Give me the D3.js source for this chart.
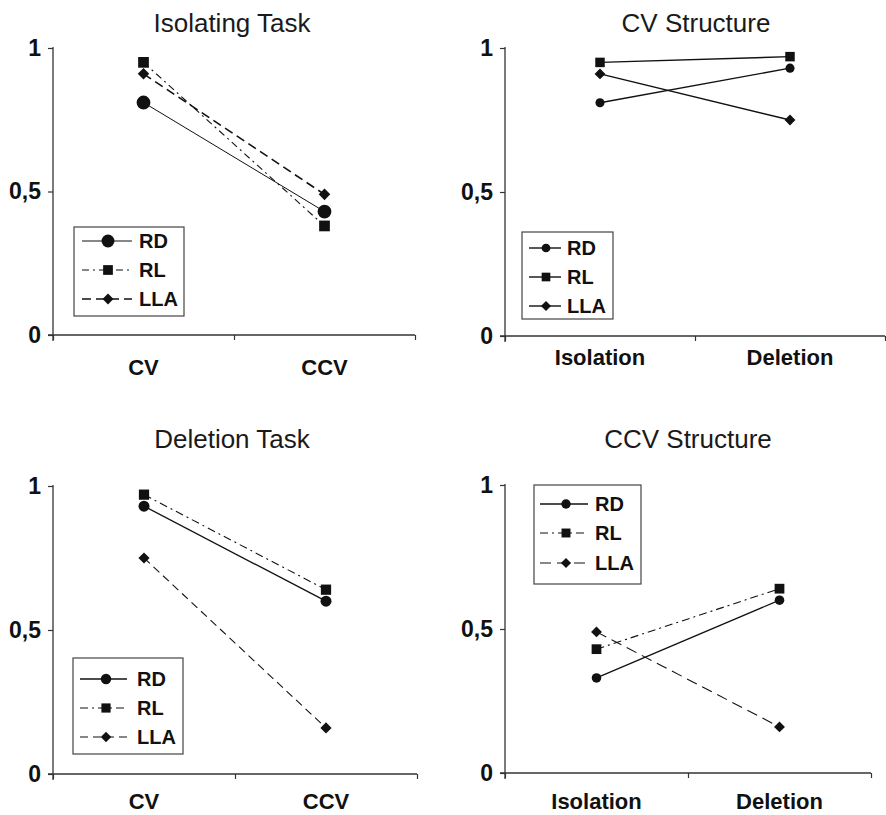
<!DOCTYPE html>
<html>
<head>
<meta charset="utf-8">
<script src="https://cdn.jsdelivr.net/npm/d3@7/dist/d3.min.js"></script>
<style>
  html, body { margin: 0; padding: 0; background: #fff; }
  svg { display: block; font-family: "Liberation Sans", Arial, Helvetica, sans-serif; }
</style>
</head>
<body>
<svg id="chart" width="886" height="815"></svg>
<script>
// ---------------- DATA ----------------
const seriesNames = ["RD", "RL", "LLA"];
const taskCategories = ["CV", "CCV"];
const structureCategories = ["Isolation", "Deletion"];
const panelTitles = ["Isolating Task", "CV Structure", "Deletion Task", "CCV Structure"];
const yTickValues = [0, 0.5, 1];
const yTickLabels = ["0", "0,5", "1"];

// values per series (RD, RL, LLA), one value per category
const isolatingTaskValues = [[0.81, 0.43], [0.95, 0.38], [0.91, 0.49]];
const cvStructureValues   = [[0.81, 0.93], [0.95, 0.97], [0.91, 0.75]];
const deletionTaskValues  = [[0.93, 0.60], [0.97, 0.64], [0.75, 0.16]];
const ccvStructureValues  = [[0.33, 0.60], [0.43, 0.64], [0.49, 0.16]];

// ---------------- LAYOUT / STYLE ----------------
const shapes = [d3.symbolCircle, d3.symbolSquare, d3.symbolDiamond2];

const panels = [
  { title: panelTitles[0], cats: taskCategories, values: isolatingTaskValues,
    x0: 53, x1: 415, yTop: 48, yBot: 335, titleX: 232, titleY: 32, catY: 375,
    legend: { x: 74, y: 227, w: 110, h: 89, rowY: [241, 270, 299], lx0: 82, lx1: 132, mx: 108, tx: 139 },
    dash: [null, "7,4,2,4", "9,5"], widths: [1, 1.1, 1.6],
    sizes: [150, 115, 85], legendSizes: [130, 95, 75] },
  { title: panelTitles[1], cats: structureCategories, values: cvStructureValues,
    x0: 505, x1: 885, yTop: 48, yBot: 336, titleX: 696, titleY: 32, catY: 365,
    legend: { x: 522, y: 232, w: 91, h: 87, rowY: [248, 277, 306], lx0: 529, lx1: 561, mx: 546, tx: 567 },
    dash: [null, null, null], widths: [1.4, 1.4, 1.4],
    sizes: [65, 90, 75], legendSizes: [60, 75, 65] },
  { title: panelTitles[2], cats: taskCategories, values: deletionTaskValues,
    x0: 53, x1: 417, yTop: 486, yBot: 774, titleX: 232, titleY: 448, catY: 809,
    legend: { x: 73, y: 658, w: 110, h: 96, rowY: [679, 708, 737], lx0: 80, lx1: 127, mx: 106, tx: 137 },
    dash: [null, "8,4,2,4", "8,5"], widths: [1.3, 1.1, 1.1],
    sizes: [95, 105, 80], legendSizes: [85, 85, 70] },
  { title: panelTitles[3], cats: structureCategories, values: ccvStructureValues,
    x0: 505, x1: 871, yTop: 485, yBot: 773, titleX: 688, titleY: 448, catY: 809,
    legend: { x: 534, y: 485, w: 107, h: 99, rowY: [504, 533, 563], lx0: 540, lx1: 588, mx: 566, tx: 595 },
    dash: [null, "8,4,2,4", "11,6"], widths: [1.3, 1.1, 1.1],
    sizes: [72, 95, 75], legendSizes: [70, 80, 65] }
];

const svg = d3.select("#chart");
const axisColor = "#333";
const inkColor = "#111";

panels.forEach(p => {
  const g = svg.append("g");

  const x = d3.scaleBand().domain(p.cats).range([p.x0, p.x1]).padding(0);
  const xEdge = d3.scaleLinear().domain([0, p.cats.length]).range([p.x0, p.x1]);
  const y = d3.scaleLinear().domain([0, 1]).range([p.yBot, p.yTop]);
  const cx = c => x(c) + x.bandwidth() / 2;

  // title
  g.append("text")
    .attr("x", p.titleX).attr("y", p.titleY)
    .attr("text-anchor", "middle")
    .attr("font-size", 26).attr("fill", "#1a1a1a")
    .text(p.title);

  // y axis
  const yAxis = d3.axisLeft(y)
    .tickValues(yTickValues)
    .tickFormat((d, i) => yTickLabels[i])
    .tickSize(5).tickSizeOuter(0).tickPadding(7);
  const ya = g.append("g").attr("transform", `translate(${p.x0},0)`).call(yAxis);
  ya.select(".domain").attr("stroke", axisColor).attr("stroke-width", 1.3)
    .attr("d", `M0,${p.yTop - 1}V${p.yBot + 6}`);
  ya.selectAll(".tick line").attr("stroke", axisColor).attr("stroke-width", 1.2);
  ya.selectAll(".tick text")
    .attr("font-family", "'Liberation Sans', Arial, sans-serif")
    .attr("font-size", 23).attr("font-weight", "bold").attr("fill", "#111");

  // x axis (ticks at band edges)
  const xAxis = d3.axisBottom(xEdge)
    .tickValues(d3.range(p.cats.length + 1))
    .tickFormat("")
    .tickSize(5).tickSizeOuter(0);
  const xa = g.append("g").attr("transform", `translate(0,${p.yBot})`).call(xAxis);
  xa.select(".domain").attr("stroke", axisColor).attr("stroke-width", 1.3)
    .attr("d", `M${p.x0 - 5},0H${p.x1}`);
  xa.selectAll(".tick line").attr("stroke", axisColor).attr("stroke-width", 1.2);

  // category labels
  g.selectAll(".cat").data(p.cats).enter().append("text")
    .attr("x", d => cx(d)).attr("y", p.catY)
    .attr("text-anchor", "middle")
    .attr("font-size", 22).attr("font-weight", "bold").attr("fill", "#111")
    .text(d => d);

  // series lines & markers
  const line = d3.line().x(d => cx(d.c)).y(d => y(d.v));
  seriesNames.forEach((name, si) => {
    const pts = p.cats.map((c, ci) => ({ c, v: p.values[si][ci] }));
    g.append("path").datum(pts)
      .attr("d", line)
      .attr("fill", "none")
      .attr("stroke", inkColor)
      .attr("stroke-width", p.widths[si])
      .attr("stroke-dasharray", p.dash[si]);
    g.selectAll(".m" + si).data(pts).enter().append("path")
      .attr("transform", d => `translate(${cx(d.c)},${y(d.v)})`)
      .attr("d", d3.symbol().type(shapes[si]).size(p.sizes[si]))
      .attr("fill", inkColor);
  });

  // legend
  const L = p.legend;
  const lg = g.append("g");
  lg.append("rect")
    .attr("x", L.x).attr("y", L.y).attr("width", L.w).attr("height", L.h)
    .attr("fill", "#fff").attr("stroke", "#444").attr("stroke-width", 1.2);
  seriesNames.forEach((name, si) => {
    const ry = L.rowY[si];
    lg.append("line")
      .attr("x1", L.lx0).attr("x2", L.lx1).attr("y1", ry).attr("y2", ry)
      .attr("stroke", inkColor).attr("stroke-width", p.widths[si])
      .attr("stroke-dasharray", p.dash[si]);
    lg.append("path")
      .attr("transform", `translate(${L.mx},${ry})`)
      .attr("d", d3.symbol().type(shapes[si]).size(p.legendSizes[si]))
      .attr("fill", inkColor);
    lg.append("text")
      .attr("x", L.tx).attr("y", ry)
      .attr("dy", "0.35em")
      .attr("font-size", 20).attr("font-weight", "bold").attr("fill", "#111")
      .text(name);
  });
});
</script>
</body>
</html>
